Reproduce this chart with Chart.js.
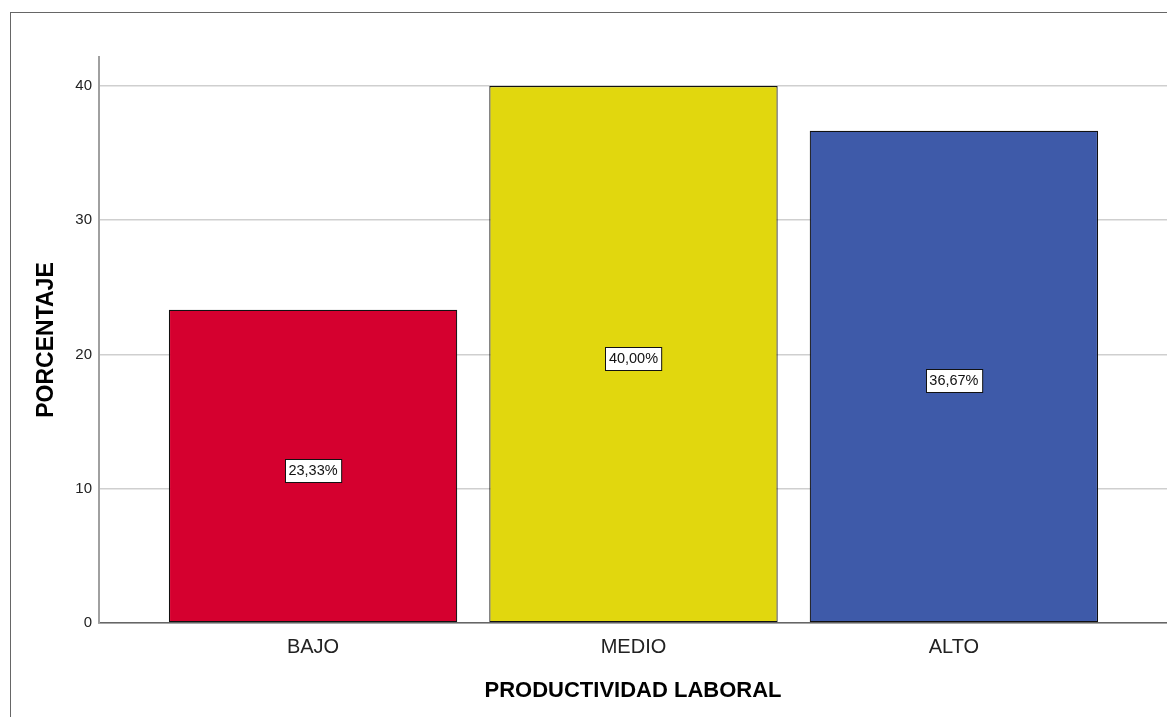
<!DOCTYPE html>
<html>
<head>
<meta charset="utf-8">
<script src="https://cdn.jsdelivr.net/npm/chart.js@4.4.1/dist/chart.umd.min.js"></script>
<style>
  body { margin: 0; background: #fff; }
  #contenedor { width: 1167px; height: 717px; }
</style>
</head>
<body>
<div id="contenedor"><canvas id="grafico" width="1167" height="717"></canvas></div>
<script>
// =================== DATOS ===================
const categorias = ["BAJO", "MEDIO", "ALTO"];
const porcentajes = [23.33, 40.00, 36.67];
const ticksY = [0, 10, 20, 30, 40];

const fuente = "'Liberation Sans', Arial, sans-serif";

// Marco gris alrededor del gráfico (estilo SPSS)
const marco = {
    id: "marco",
    beforeDraw(chart) {
        const ctx = chart.ctx;
        ctx.save();
        ctx.fillStyle = "#fff";
        ctx.fillRect(0, 0, chart.width, chart.height);
        ctx.strokeStyle = "#666";
        ctx.lineWidth = 1;
        ctx.strokeRect(10.5, 12.5, 1300, 900);
        ctx.restore();
    }
};

// Etiquetas con caja blanca en el centro de cada barra
const etiquetas = {
    id: "etiquetas",
    afterDatasetsDraw(chart) {
        const ctx = chart.ctx;
        const meta = chart.getDatasetMeta(0);
        ctx.save();
        ctx.font = "14.5px " + fuente;
        ctx.textAlign = "center";
        ctx.textBaseline = "middle";
        meta.data.forEach(function (barra, i) {
            const p = barra.getProps(["x", "y", "base"], true);
            const texto = porcentajes[i].toFixed(2).replace(".", ",") + "%";
            const ancho = ctx.measureText(texto).width + 7;
            const alto = 23;
            const cy = (p.y + p.base) / 2 + 4;
            const bx = Math.round(p.x - ancho / 2) + 0.5;
            const by = Math.round(cy - alto / 2) + 0.5;
            ctx.fillStyle = "#fff";
            ctx.fillRect(bx, by, ancho, alto);
            ctx.strokeStyle = "#111";
            ctx.lineWidth = 1;
            ctx.strokeRect(bx, by, ancho, alto);
            ctx.fillStyle = "#111";
            ctx.fillText(texto, p.x, cy + 1);
        });
        ctx.restore();
    }
};

new Chart(document.getElementById("grafico"), {
    type: "bar",
    data: {
        datasets: [{
            data: porcentajes.map((v, i) => ({ x: i, y: v })),
            backgroundColor: ["#d5002f", "#e1d70e", "#3e5aa9"],
            borderColor: "#111",
            borderWidth: 1.2,
            borderSkipped: false,
            categoryPercentage: 0.9,
            barPercentage: 1
        }]
    },
    options: {
        responsive: false,
        animation: false,
        layout: { padding: { top: 57, left: 0, right: 0, bottom: 0 } },
        plugins: {
            legend: { display: false },
            tooltip: { enabled: false }
        },
        scales: {
            x: {
                type: "linear",
                offset: false,
                min: -0.668,
                max: 2.665,
                afterBuildTicks: function (eixo) {
                    eixo.ticks = categorias.map((c, i) => ({ value: i }));
                },
                afterFit: function (eixo) { eixo.height = 94; },
                ticks: {
                    padding: 12,
                    color: "#222",
                    font: { family: fuente, size: 20 },
                    callback: function (v) { return categorias[v]; }
                },
                grid: { display: false, drawTicks: false },
                border: { color: "#666", width: 1.5 },
                title: {
                    display: true,
                    text: "PRODUCTIVIDAD LABORAL",
                    color: "#000",
                    font: { family: fuente, size: 22, weight: "bold" },
                    padding: { top: 0, bottom: 13 }
                }
            },
            y: {
                min: 0,
                max: 42.16,
                afterBuildTicks: function (eixo) {
                    eixo.ticks = ticksY.map(v => ({ value: v }));
                },
                afterFit: function (eixo) { eixo.width = 99; },
                ticks: {
                    padding: 7,
                    color: "#222",
                    font: { family: fuente, size: 15 }
                },
                grid: { color: "#cfcfcf", lineWidth: 1.5, drawTicks: false },
                border: { color: "#a0a0a0", width: 2 },
                title: {
                    display: true,
                    text: "PORCENTAJE",
                    color: "#000",
                    font: { family: fuente, size: 23, weight: "bold" },
                    padding: { top: 33, bottom: 0 }
                }
            }
        }
    },
    plugins: [marco, etiquetas]
});
</script>
</body>
</html>
